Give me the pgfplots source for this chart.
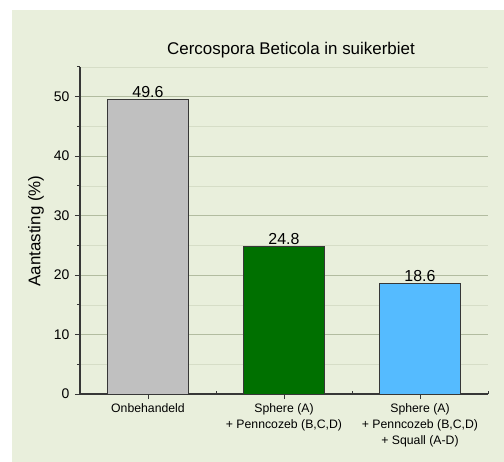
\documentclass[border=0pt]{standalone}
\usepackage{pgfplots}
\pgfplotsset{compat=1.18}
\usepackage{fontspec}
\setmainfont{Liberation Sans}
\definecolor{panel}{RGB}{233,239,220}
\definecolor{gridc}{RGB}{178,188,160}
\definecolor{graybar}{RGB}{192,192,192}
\definecolor{greenbar}{RGB}{0,112,0}
\definecolor{bluebar}{RGB}{85,187,255}
\definecolor{axc}{RGB}{55,55,55}
\begin{document}
\begin{tikzpicture}
\fill[white] (0bp,0bp) rectangle (504bp,462bp);
\fill[panel] (12bp,0bp) rectangle (504bp,452bp);
\begin{axis}[
  at={(80bp,68bp)}, anchor=south west,
  scale only axis, width=408bp, height=327bp,
  xmin=-0.5, xmax=2.5, ymin=0, ymax=55,
  axis x line*=bottom, axis y line*=left,
  axis line style={axc, line width=1.1pt},
  ybar, bar width=0.6, bar shift=0pt,
  xtick={0,1,2},
  xticklabels={Onbehandeld, {Sphere (A)\\+ Penncozeb (B,C,D)}, {Sphere (A)\\+ Penncozeb (B,C,D)\\+ Squall (A-D)}},
  minor xtick={0.5,1.5,2.5},
  ytick={0,10,20,30,40,50},
  minor ytick={5,15,25,35,45,55},
  tick align=outside,
  major tick length=5bp, minor tick length=3bp,
  every tick/.style={axc, line width=1pt},
  minor x tick style={yshift=3bp},
  ymajorgrids, yminorgrids,
  major grid style={gridc, line width=0.7pt},
  minor grid style={gridc!35!panel, line width=0.5pt},
  /pgf/number format/assume math mode=true,
  yticklabel style={font=\fontsize{14}{16}\selectfont, xshift=-2bp},
  xticklabel style={font=\fontsize{12.3}{16.3}\selectfont, align=center, yshift=-1bp},
  nodes near coords,
  nodes near coords style={font=\fontsize{16}{18}\selectfont, anchor=south, inner sep=1.5bp, /pgf/number format/fixed, /pgf/number format/precision=1, /pgf/number format/fixed zerofill},
  clip=false,
]
\addplot[fill=graybar, draw=axc, line width=0.8pt] coordinates {(0,49.6)};
\addplot[fill=greenbar, draw=axc, line width=0.8pt] coordinates {(1,24.8)};
\addplot[fill=bluebar, draw=axc, line width=0.8pt] coordinates {(2,18.6)};
\end{axis}
\node[font=\fontsize{17}{20}\selectfont] at (291bp,412bp) {Cercospora Beticola in suikerbiet};
\node[rotate=90, font=\fontsize{17}{20}\selectfont] at (36bp,231bp) {Aantasting (\%)};
\end{tikzpicture}
\end{document}
